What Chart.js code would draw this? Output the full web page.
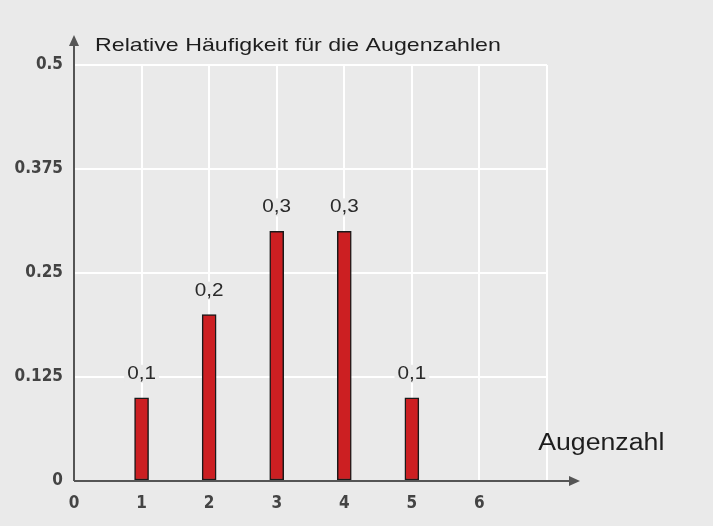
<!DOCTYPE html>
<html>
<head>
<meta charset="utf-8">
<script src="https://cdn.jsdelivr.net/npm/chart.js@4.4.1/dist/chart.umd.min.js"></script>
<style>
  html, body { margin: 0; padding: 0; background: #eaeaea; }
  #wrap { width: 713px; height: 526px; }
</style>
</head>
<body>
<div id="wrap"><canvas id="chart" width="713" height="526"></canvas></div>
<script>
const augenzahlen = [1, 2, 3, 4, 5, 6];
const haeufigkeit = [0.1, 0.2, 0.3, 0.3, 0.1, 0];
const wertLabels = ['0,1', '0,2', '0,3', '0,3', '0,1', ''];
const yTicks = [0, 0.125, 0.25, 0.375, 0.5];
const titel = 'Relative Häufigkeit für die Augenzahlen';
const xTitel = 'Augenzahl';

const tickFont = { family: "'DejaVu Sans Condensed', 'Liberation Sans', sans-serif", size: 17, weight: 'bold' };

// text drawn a bit wider, like the reference
function wideText(ctx, text, x, y, align, stretch) {
  const w = ctx.measureText(text).width * stretch;
  let left = x;
  if (align === 'center') left = x - w / 2;
  ctx.save();
  ctx.translate(left, y);
  ctx.scale(stretch, 1);
  ctx.textAlign = 'left';
  ctx.fillText(text, 0, 0);
  ctx.restore();
  return w;
}

// axes with arrows, titles and value labels
const extras = {
  id: 'extras',
  afterDatasetsDraw(chart) {
    const { ctx, scales: { x, y } } = chart;
    const x0 = x.getPixelForValue(0);
    const y0 = y.getPixelForValue(0);
    const yTop = y.getPixelForValue(0.5);
    const xRight = x.getPixelForValue(7);
    ctx.save();

    // value labels
    ctx.font = '18px "Liberation Sans", Arial, sans-serif';
    ctx.textBaseline = 'middle';
    const meta = chart.getDatasetMeta(0);
    meta.data.forEach((bar, i) => {
      const t = wertLabels[i];
      if (!t) return;
      const w = ctx.measureText(t).width * 1.15;
      const cy = bar.y - 24;
      ctx.fillStyle = '#eaeaea';
      ctx.fillRect(bar.x - w / 2 - 3, cy - 9, w + 6, 18);
      ctx.fillStyle = '#2a2a2a';
      wideText(ctx, t, bar.x, cy, 'center', 1.15);
    });

    // axes
    ctx.strokeStyle = '#555';
    ctx.fillStyle = '#555';
    ctx.lineWidth = 2;
    ctx.beginPath();
    ctx.moveTo(x0, y0);
    ctx.lineTo(x0, yTop - 24);
    ctx.moveTo(x0, y0);
    ctx.lineTo(xRight + 26, y0);
    ctx.stroke();
    ctx.beginPath();
    ctx.moveTo(x0, yTop - 30);
    ctx.lineTo(x0 - 5, yTop - 19);
    ctx.lineTo(x0 + 5, yTop - 19);
    ctx.closePath();
    ctx.fill();
    ctx.beginPath();
    ctx.moveTo(xRight + 33, y0);
    ctx.lineTo(xRight + 22, y0 - 5);
    ctx.lineTo(xRight + 22, y0 + 5);
    ctx.closePath();
    ctx.fill();

    // titles
    ctx.fillStyle = '#1e1e1e';
    ctx.textBaseline = 'middle';
    ctx.font = '19px "Liberation Sans", Arial, sans-serif';
    wideText(ctx, titel, x0 + 21, yTop - 19, 'left', 1.22);
    ctx.font = '23px "Liberation Sans", Arial, sans-serif';
    wideText(ctx, xTitel, x.getPixelForValue(6.87), y0 - 37, 'left', 1.16);
    ctx.restore();
  }
};

new Chart(document.getElementById('chart').getContext('2d'), {
  type: 'bar',
  data: {
    datasets: [{
      data: augenzahlen.map((a, i) => ({ x: a, y: haeufigkeit[i] })),
      backgroundColor: '#cc1f22',
      borderColor: '#1a1a1a',
      borderWidth: 1.5,
      borderSkipped: false,
      barThickness: 14,
    }],
  },
  options: {
    responsive: false,
    animation: false,
    layout: { padding: { top: 65, right: 166, left: 0, bottom: 0 } },
    plugins: { legend: { display: false }, tooltip: { enabled: false } },
    scales: {
      x: {
        type: 'linear',
        min: 0,
        max: 7,
        offset: false,
        grid: { color: '#ffffff', lineWidth: 2, drawTicks: false, offset: false },
        border: { display: false },
        ticks: {
          stepSize: 1,
          padding: 12,
          color: '#444',
          font: tickFont,
          callback: (v) => (v <= 6 ? String(v) : ''),
        },
        afterFit(scale) { scale.height = 45; },
      },
      y: {
        min: 0,
        max: 0.5,
        grid: { color: '#ffffff', lineWidth: 2, drawTicks: false },
        border: { display: false },
        afterBuildTicks(scale) { scale.ticks = yTicks.map((v) => ({ value: v })); },
        ticks: {
          padding: 11,
          color: '#444',
          font: tickFont,
          callback: (v) => String(v),
        },
        afterFit(scale) { scale.width = 74; },
      },
    },
  },
  plugins: [extras],
});
</script>
</body>
</html>
